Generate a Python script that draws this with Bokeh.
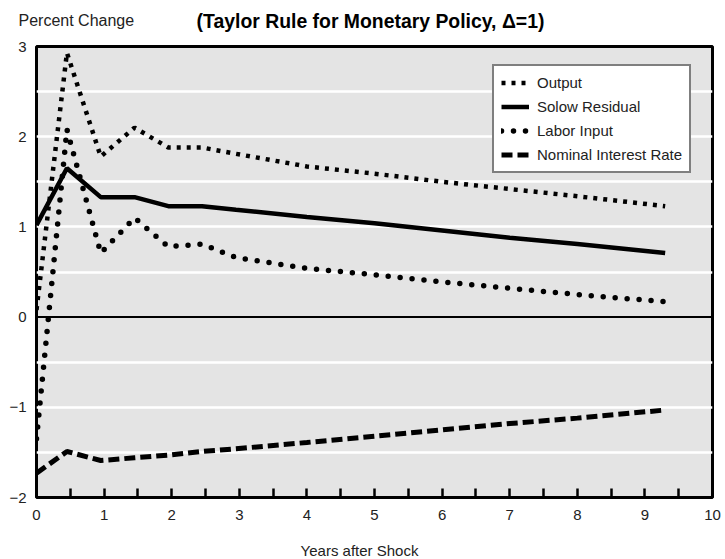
from bokeh.plotting import figure
from bokeh.models import (FixedTicker, Span, Label, Legend, LegendItem, Range1d)
from bokeh.embed import file_html
from bokeh.resources import INLINE

# ---- data ----
years = [0, 0.45, 0.95, 1.45, 1.95, 2.45, 2.95, 4, 5, 6, 7, 8, 9.3]
output = [0.08, 2.93, 1.78, 2.10, 1.88, 1.88, 1.81, 1.67, 1.59, 1.50, 1.42, 1.34, 1.23]
solow_residual = [1.02, 1.65, 1.33, 1.33, 1.23, 1.23, 1.19, 1.11, 1.04, 0.96, 0.88, 0.81, 0.71]
labor_input = [-1.35, 2.08, 0.71, 1.10, 0.78, 0.81, 0.66, 0.54, 0.47, 0.39, 0.32, 0.25, 0.17]
nominal_rate = [-1.73, -1.49, -1.59, -1.56, -1.53, -1.49, -1.46, -1.39, -1.32, -1.25, -1.18, -1.12, -1.03]

series_names = ["Output", "Solow Residual", "Labor Input", "Nominal Interest Rate"]
x_ticks = [0, 1, 2, 3, 4, 5, 6, 7, 8, 9, 10]
x_minor_ticks = [0.5, 1.5, 2.5, 3.5, 4.5, 5.5, 6.5, 7.5, 8.5, 9.5]
y_ticks = [-2, -1, 0, 1, 2, 3]
y_tick_labels = ["\u22122", "\u22121", "0", "1", "2", "3"]
y_grid = [-1.5, -1, -0.5, 0.5, 1, 1.5, 2, 2.5]

title_text = "(Taylor Rule for Monetary Policy, \u0394=1)"
y_title = "Percent Change"
x_title = "Years after Shock"

FONT = "Liberation Sans"
TXT = "#222222"
W = 725


def text_strip(height):
    f = figure(width=W, height=height, output_backend="svg", toolbar_location=None,
               x_axis_type=None, y_axis_type=None,
               x_range=Range1d(0, W), y_range=Range1d(0, height),
               min_border=0)
    f.outline_line_color = None
    f.background_fill_color = "white"
    f.border_fill_color = "white"
    return f


# ---- header (texts above the plot) ----
header = text_strip(38)
header.add_layout(Label(x=18, y=18, text=y_title, text_font=FONT,
                        text_font_size="16px", text_color=TXT,
                        text_baseline="middle", text_align="left"))
header.add_layout(Label(x=370, y=18, text=title_text, text_font=FONT,
                        text_font_size="19.4px", text_font_style="bold",
                        text_color="black", text_baseline="middle",
                        text_align="center"))

# ---- main chart ----
p = figure(width=W, height=492, output_backend="svg", toolbar_location=None,
           x_range=Range1d(0, 10), y_range=Range1d(-2, 3),
           min_border_left=36, min_border_right=13, min_border_top=8,
           min_border_bottom=33)
p.background_fill_color = "#e4e4e4"
p.border_fill_color = "white"
p.outline_line_color = "black"
p.outline_line_width = 3

xa = p.xaxis[0]
xa.ticker = FixedTicker(ticks=x_ticks, minor_ticks=x_minor_ticks)
xa.axis_line_color = None
xa.major_tick_in = 9
xa.major_tick_out = 0
xa.minor_tick_in = 9
xa.minor_tick_out = 0
xa.major_tick_line_width = 2.5
xa.minor_tick_line_width = 2.5
xa.major_tick_line_color = "black"
xa.minor_tick_line_color = "black"
xa.major_label_standoff = 12
xa.major_label_text_font = FONT
xa.major_label_text_font_size = "15px"
xa.major_label_text_color = TXT

ya = p.yaxis[0]
ya.ticker = FixedTicker(ticks=y_ticks)
ya.major_label_overrides = {t: l for t, l in zip(y_ticks, y_tick_labels)}
ya.axis_line_color = None
ya.major_tick_in = 0
ya.major_tick_out = 0
ya.minor_tick_line_color = None
ya.major_label_standoff = 10
ya.major_label_text_font = FONT
ya.major_label_text_font_size = "15px"
ya.major_label_text_color = TXT

p.xgrid.visible = False
p.ygrid.ticker = FixedTicker(ticks=y_grid)
p.ygrid.grid_line_color = "white"
p.ygrid.grid_line_width = 2.5

p.add_layout(Span(location=0, dimension="width", line_color="black",
                  line_width=2, level="underlay"))

r_out = p.line(years, output, line_color="black", line_width=4.5,
               line_dash="4 6", line_cap="butt")
r_sol = p.line(years, solow_residual, line_color="black", line_width=4.5)
r_lab = p.line(years, labor_input, line_color="black", line_width=5.5,
               line_dash="0 12", line_cap="round")
r_int = p.line(years, nominal_rate, line_color="black", line_width=5,
               line_dash="11 5", line_cap="butt")

legend = Legend(items=[LegendItem(label=series_names[0], renderers=[r_out]),
                       LegendItem(label=series_names[1], renderers=[r_sol]),
                       LegendItem(label=series_names[2], renderers=[r_lab]),
                       LegendItem(label=series_names[3], renderers=[r_int])],
                location=(456, 324), orientation="vertical")
legend.border_line_color = "black"
legend.border_line_width = 2
legend.background_fill_color = "white"
legend.background_fill_alpha = 1
legend.padding = 7
legend.spacing = 5
legend.margin = 0
legend.label_height = 19
legend.glyph_height = 19
legend.glyph_width = 28
legend.label_standoff = 8
legend.label_text_font = FONT
legend.label_text_font_size = "15px"
legend.label_text_color = TXT
p.add_layout(legend)

# ---- footer (x axis title) ----
footer = text_strip(28)
footer.add_layout(Label(x=359, y=8, text=x_title, text_font=FONT,
                        text_font_size="15px", text_color=TXT,
                        text_baseline="middle", text_align="center"))

open("out.html", "w").write(file_html([header, p, footer], INLINE))
